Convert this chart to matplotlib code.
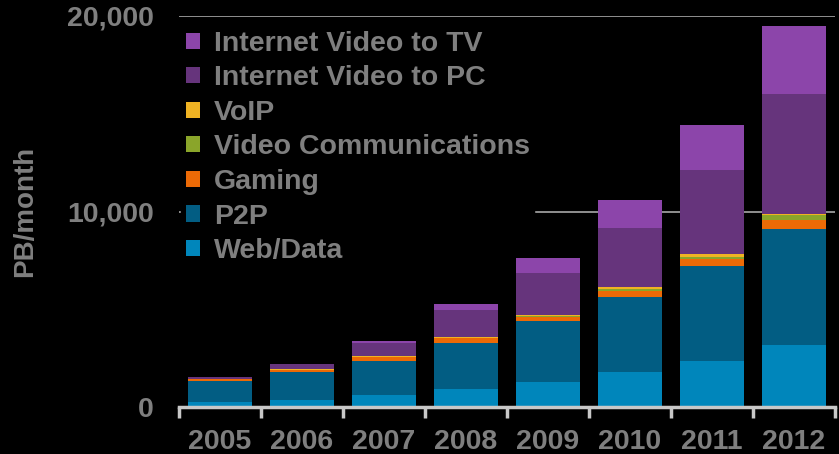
import matplotlib
matplotlib.use("Agg")
import matplotlib.pyplot as plt
import numpy as np

years = ["2005", "2006", "2007", "2008", "2009", "2010", "2011", "2012"]
web_data = [255, 357, 612, 918, 1275, 1785, 2346, 3162]
p2p = [1071, 1428, 1734, 2346, 3111, 3825, 4845, 5967]
gaming = [100, 100, 204, 255, 204, 306, 357, 442]
video_comm = [10, 15, 25, 35, 68, 119, 119, 238]
voip = [20, 25, 26, 20, 51, 85, 136, 85]
video_pc = [80, 270, 660, 1377, 2125, 3060, 4340, 6126]
video_tv = [10, 30, 100, 306, 765, 1428, 2296, 3470]

series_names = ["Web/Data", "P2P", "Gaming", "Video Communications", "VoIP",
                "Internet Video to PC", "Internet Video to TV"]
series_values = [web_data, p2p, gaming, video_comm, voip, video_pc, video_tv]
colors = ["#0086BB", "#025D83", "#EC6A06", "#8AA52A", "#F0B323", "#66347C", "#8C45AA"]
yticks = [0, 10000, 20000]
ytick_labels = ["0", "10,000", "20,000"]

plt.rcParams['font.family'] = ['Liberation Sans', 'DejaVu Sans']
plt.rcParams['font.weight'] = 'bold'
gray = "#7f7f7f"

fig = plt.figure(figsize=(8.39, 4.54), dpi=100, facecolor="black")
ax = fig.add_axes([179/839, 1 - 407/454, (835 - 179)/839, (407 - 16)/454])
ax.set_facecolor("black")

x = np.arange(len(years))
bottom = np.zeros(len(years))
handles = []
for name, vals, c in zip(series_names, series_values, colors):
    b = ax.bar(x, vals, width=0.77, bottom=bottom, color=c, label=name, zorder=3, linewidth=0)
    handles.append(b)
    bottom += np.array(vals)

ax.set_xlim(-0.5, len(years) - 0.5)
ax.set_ylim(0, 20000)
ax.set_yticks(yticks)
ax.set_yticklabels(ytick_labels)
ax.set_xticks(x)
ax.set_xticklabels(years)
ax.set_xticks(np.arange(-0.5, len(years)), minor=True)
ax.tick_params(axis='x', which='major', length=0, pad=16, labelsize=20.5, labelcolor=gray)
ax.tick_params(axis='x', which='minor', length=8, width=2.5, color="#c8c8c8", direction='out')
ax.tick_params(axis='y', length=0, pad=18, labelsize=20.5, labelcolor=gray)

for s in ['top', 'right', 'left']:
    ax.spines[s].set_visible(False)
ax.spines['bottom'].set_color("#c8c8c8")
ax.spines['bottom'].set_linewidth(2.5)
ax.spines['bottom'].set_zorder(4)

ax.yaxis.grid(True, color="#9a9a9a", linewidth=1.3, zorder=0)
ax.set_axisbelow(True)

ax.set_ylabel("PB/month", color=gray, fontsize=20, fontweight='bold')
ax.yaxis.set_label_coords(-0.215, 0.5)

leg = ax.legend(handles[::-1], series_names[::-1], loc='upper left',
                bbox_to_anchor=(-0.003, 0.984), frameon=True, facecolor="black",
                edgecolor="black", framealpha=1, fontsize=20.5,
                handlelength=0.5, handleheight=0.5, handletextpad=0.5,
                labelspacing=0.3, borderpad=0.15, borderaxespad=0.15)
for t in leg.get_texts():
    t.set_color(gray)
leg.set_zorder(2)

fig.savefig("out.png", dpi=100, facecolor="black")
